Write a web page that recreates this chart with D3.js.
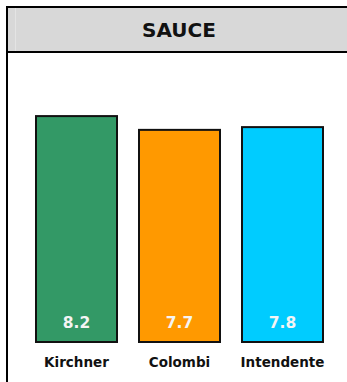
<!DOCTYPE html>
<html><head><meta charset="utf-8">
<script src="https://cdn.jsdelivr.net/npm/d3@7"></script>
<style>body{margin:0;background:#fff}svg{display:block}</style>
</head><body>
<script>
const title = "SAUCE";
const categories = ["Kirchner", "Colombi", "Intendente"];
const values = [8.2, 7.7, 7.8];
const colors = ["#339966", "#FF9900", "#00CCFF"];

const W = 347, H = 382;
const svg = d3.select("body").append("svg").attr("width", W).attr("height", H);
const font = "Verdana, 'DejaVu Sans', sans-serif";

// header band
svg.append("rect").attr("x", 7).attr("y", 7).attr("width", W - 7).attr("height", 45).attr("fill", "#d8d8d8");
svg.append("line").attr("x1", 15.5).attr("x2", 15.5).attr("y1", 8).attr("y2", 51).attr("stroke", "#e4e4e4").attr("stroke-width", 1);
svg.append("line").attr("x1", 6).attr("x2", W).attr("y1", 7).attr("y2", 7).attr("stroke", "#000").attr("stroke-width", 2);
svg.append("line").attr("x1", 6).attr("x2", W).attr("y1", 52).attr("y2", 52).attr("stroke", "#000").attr("stroke-width", 2);
svg.append("line").attr("x1", 7).attr("x2", 7).attr("y1", 6).attr("y2", H).attr("stroke", "#000").attr("stroke-width", 2);
svg.append("text").attr("x", 179).attr("y", 30).attr("text-anchor", "middle").attr("dominant-baseline", "central")
  .attr("font-family", font).attr("font-weight", "bold").attr("font-size", 20).attr("fill", "#111").text(title);

const x = d3.scaleBand().domain(categories).range([25, 334]).paddingInner(0.2136).paddingOuter(0.1068);
const y = d3.scaleLinear().domain([0, 10]).range([342, 66.5]);

const g = svg.append("g");
g.selectAll("rect.bar").data(categories).join("rect").attr("class", "bar")
  .attr("x", d => x(d)).attr("width", x.bandwidth())
  .attr("y", (d, i) => y(values[i])).attr("height", (d, i) => y(0) - y(values[i]))
  .attr("fill", (d, i) => colors[i]).attr("stroke", "#111").attr("stroke-width", 2);

g.selectAll("text.val").data(categories).join("text").attr("class", "val")
  .attr("x", d => x(d) + x.bandwidth() / 2).attr("y", 323).attr("text-anchor", "middle").attr("dominant-baseline", "central")
  .attr("font-family", font).attr("font-weight", "bold").attr("font-size", 15.5).attr("fill", "#f4f4f4")
  .text((d, i) => values[i].toFixed(1));

g.selectAll("text.cat").data(categories).join("text").attr("class", "cat")
  .attr("x", d => x(d) + x.bandwidth() / 2).attr("y", 362).attr("text-anchor", "middle").attr("dominant-baseline", "central")
  .attr("font-family", font).attr("font-weight", "bold").attr("font-size", 13.5).attr("fill", "#111")
  .text(d => d);
</script>
</body></html>
